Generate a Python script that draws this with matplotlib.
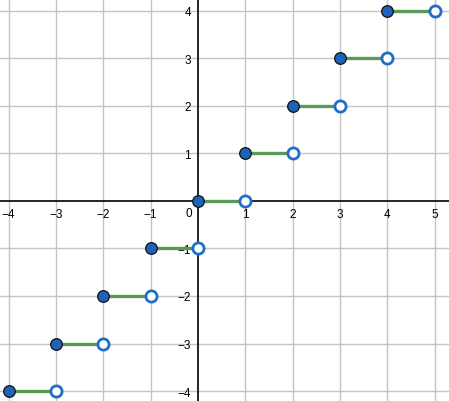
import matplotlib
matplotlib.use("Agg")
import matplotlib.pyplot as plt
import numpy as np

# ---- Data: floor(x) steps, closed at left, open at right ----
STEP_START = [-4, -3, -2, -1, 0, 1, 2, 3, 4]
STEP_VALUE = [-4, -3, -2, -1, 0, 1, 2, 3, 4]
X_TICKS = [-4, -3, -2, -1, 1, 2, 3, 4, 5]
Y_TICKS = [-4, -3, -2, -1, 1, 2, 3, 4]

LINE_COLOR = "#5b9a55"
DOT_COLOR = "#1d63b8"
OPEN_EDGE = "#1f6fc6"

plt.rcParams["font.family"] = ["Liberation Sans", "DejaVu Sans"]

fig = plt.figure(figsize=(4.49, 4.02), dpi=100)
ax = fig.add_axes([0, 0, 1, 1])
ax.set_xlim(-4.18, 5.30)
ax.set_ylim(-4.21, 4.25)

for s in ["top", "right"]:
    ax.spines[s].set_visible(False)
ax.spines["left"].set_position("zero")
ax.spines["bottom"].set_position("zero")
ax.spines["left"].set_linewidth(1.2)
ax.spines["bottom"].set_linewidth(1.2)

ax.set_xticks(X_TICKS)
ax.set_yticks(Y_TICKS)
ax.tick_params(axis="both", length=0, labelsize=8.5, colors="black")
ax.tick_params(axis="x", pad=5)
ax.tick_params(axis="y", pad=5)
ax.set_axisbelow(True)
ax.grid(True, color="#c4c4c4", linewidth=1.0)
ax.text(-0.12, -0.12, "0", ha="right", va="top", fontsize=8.5)

x0 = np.array(STEP_START, dtype=float)
y = np.array(STEP_VALUE, dtype=float)
for a, v in zip(x0, y):
    ax.plot([a, a + 1], [v, v], color=LINE_COLOR, linewidth=2.4, zorder=3,
            solid_capstyle="butt")
ax.scatter(x0, y, s=70, color=DOT_COLOR, edgecolors="#111111", linewidths=0.9,
           zorder=5, clip_on=False)
ax.scatter(x0 + 1, y, s=65, facecolors="white", edgecolors=OPEN_EDGE,
           linewidths=2.0, zorder=5, clip_on=False)

fig.savefig("out.png", dpi=100)
